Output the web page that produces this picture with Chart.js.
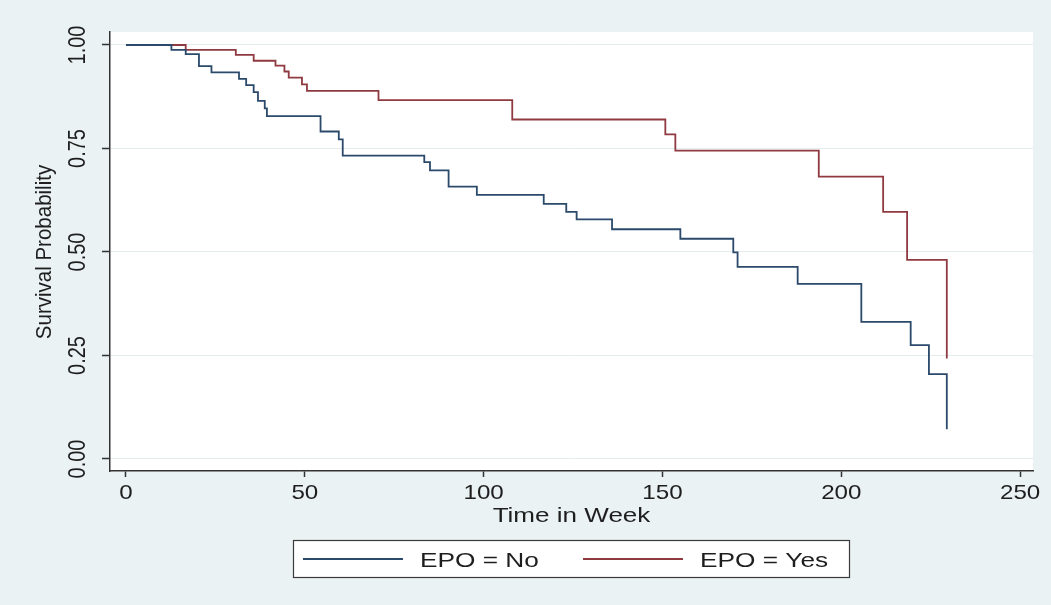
<!DOCTYPE html>
<html>
<head>
<meta charset="utf-8">
<script src="https://cdn.jsdelivr.net/npm/chart.js@4"></script>
<style>
  html, body { margin: 0; padding: 0; background: #eaf2f3; }
</style>
</head>
<body>
<canvas id="km" width="1051" height="605"></canvas>
<script>
// Kaplan-Meier steps (time in weeks, survival probability)
const noTimes = [0, 12.7, 16.7, 20.4, 23.9, 31.6, 33.6, 35.7, 36.9, 38.8, 39.4, 54.4, 59.5, 60.6, 83.4, 85.0, 90.2, 98.1, 116.8, 123.1, 126.0, 135.9, 155.0, 169.8, 171.0, 187.8, 205.6, 219.4, 224.5, 229.5];
const noSurv = [1, 0.988, 0.978, 0.949, 0.934, 0.918, 0.903, 0.886, 0.865, 0.847, 0.828, 0.791, 0.772, 0.733, 0.717, 0.697, 0.658, 0.638, 0.616, 0.597, 0.579, 0.555, 0.532, 0.499, 0.464, 0.423, 0.331, 0.275, 0.205, 0.072];
const yesTimes = [0, 16.7, 30.7, 35.7, 41.8, 44.3, 45.5, 49.2, 50.6, 70.6, 108.0, 150.8, 153.6, 193.7, 211.7, 218.4, 229.5];
const yesSurv = [1, 0.988, 0.976, 0.962, 0.95, 0.936, 0.921, 0.905, 0.889, 0.867, 0.82, 0.784, 0.745, 0.682, 0.597, 0.481, 0.243];

const seriesLabels = ['EPO = No', 'EPO = Yes'];
const seriesColors = ['#2b4a6b', '#8f3a40'];
const xTicks = [0, 50, 100, 150, 200, 250];
const yTicks = [0, 0.25, 0.5, 0.75, 1];
const xTitle = 'Time in Week';
const yTitle = 'Survival Probability';

const FONT = '"Liberation Sans", Arial, sans-serif';
const INK = '#1e1e1e';

function toPoints(ts, ss) {
    return ts.map((t, i) => ({ x: t, y: ss[i] }));
}

// the source picture is stretched sideways, so text gets a horizontal scale
function flatText(ctx, str, x, y, sx) {
    ctx.save();
    ctx.translate(x, y);
    ctx.scale(sx, 1);
    ctx.fillText(str, 0, 0);
    ctx.restore();
}

function upText(ctx, str, x, y, sy) {
    ctx.save();
    ctx.translate(x, y);
    ctx.rotate(-Math.PI / 2);
    ctx.scale(1, sy);
    ctx.fillText(str, 0, 0);
    ctx.restore();
}

const frame = {
    id: 'frame',
    beforeDraw(chart) {
        const { ctx, chartArea: a } = chart;
        ctx.save();
        ctx.fillStyle = '#eaf2f3';
        ctx.fillRect(0, 0, chart.width, chart.height);
        ctx.fillStyle = '#ffffff';
        ctx.fillRect(a.left, a.top, a.right - a.left, a.bottom - a.top);
        ctx.restore();
    },
    afterDraw(chart) {
        const { ctx, scales } = chart;
        const x = scales.x, y = scales.y;
        ctx.save();
        ctx.fillStyle = INK;
        ctx.textAlign = 'center';
        ctx.textBaseline = 'alphabetic';

        // x tick labels and title
        ctx.font = '21px ' + FONT;
        xTicks.forEach(v => flatText(ctx, String(v), x.getPixelForValue(v), 499, 1.15));
        ctx.font = '21px ' + FONT;
        flatText(ctx, xTitle, 571.5, 521.5, 1.24);

        // y tick labels, rotated
        ctx.font = '20px ' + FONT;
        yTicks.forEach(v => upText(ctx, v.toFixed(2), 85, y.getPixelForValue(v), 1.15));
        ctx.font = '20.5px ' + FONT;
        upText(ctx, yTitle, 51, y.getPixelForValue(0.5), 1.08);

        // legend box
        ctx.fillStyle = '#ffffff';
        ctx.fillRect(293, 540, 556, 38);
        ctx.strokeStyle = '#3a3a3a';
        ctx.lineWidth = 1.2;
        ctx.strokeRect(293.5, 540.5, 556, 37);
        const keyX = [303, 583];
        ctx.textAlign = 'left';
        ctx.font = '21px ' + FONT;
        chart.data.datasets.forEach((ds, i) => {
            ctx.strokeStyle = ds.borderColor;
            ctx.lineWidth = 1.8;
            ctx.beginPath();
            ctx.moveTo(keyX[i], 559);
            ctx.lineTo(keyX[i] + 100, 559);
            ctx.stroke();
            ctx.fillStyle = INK;
            flatText(ctx, ds.label, keyX[i] + 117, 566.5, 1.25);
        });
        ctx.restore();
    }
};

new Chart(document.getElementById('km'), {
    type: 'line',
    data: {
        datasets: [
            {
                label: seriesLabels[0],
                data: toPoints(noTimes, noSurv),
                borderColor: seriesColors[0],
                borderWidth: 1.8,
                stepped: 'before',
                pointRadius: 0,
                fill: false
            },
            {
                label: seriesLabels[1],
                data: toPoints(yesTimes, yesSurv),
                borderColor: seriesColors[1],
                borderWidth: 1.8,
                stepped: 'before',
                pointRadius: 0,
                fill: false
            }
        ]
    },
    options: {
        responsive: false,
        animation: false,
        layout: { padding: { top: 32, right: 18, left: 0, bottom: 0 } },
        plugins: { legend: { display: false }, tooltip: { enabled: false } },
        scales: {
            x: {
                type: 'linear',
                min: -4.47,
                max: 253.6,
                afterBuildTicks: s => { s.ticks = xTicks.map(v => ({ value: v })); },
                afterFit: s => { s.height = 134; },
                ticks: { display: false },
                grid: { drawOnChartArea: false, drawTicks: true, tickLength: 6, tickColor: '#333333', tickWidth: 1.5 },
                border: { display: true, color: '#333333', width: 1.5 }
            },
            y: {
                type: 'linear',
                min: -0.029,
                max: 1.0314,
                afterBuildTicks: s => { s.ticks = yTicks.map(v => ({ value: v })); },
                afterFit: s => { s.width = 110; },
                ticks: { display: false },
                grid: { color: '#e4ecee', lineWidth: 1, drawTicks: true, tickLength: 8, tickColor: '#333333', tickWidth: 1.5 },
                border: { display: true, color: '#333333', width: 1.5 }
            }
        }
    },
    plugins: [frame]
});
</script>
</body>
</html>
